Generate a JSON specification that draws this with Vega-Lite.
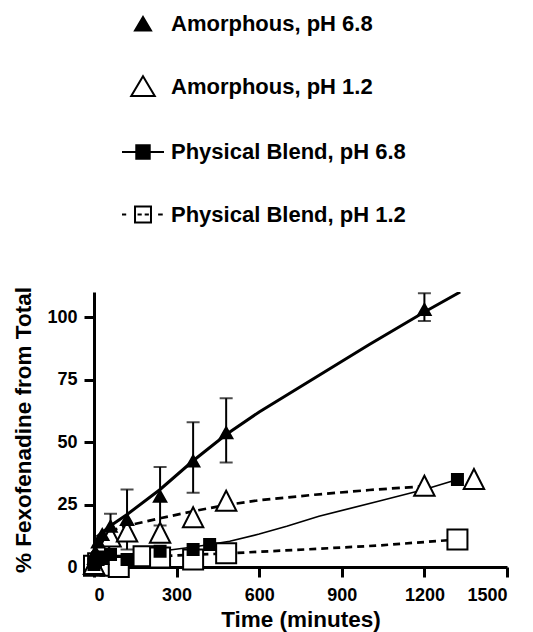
{
  "$schema": "https://vega.github.io/schema/vega-lite/v6.json",
  "width": 413,
  "height": 275,
  "autosize": {"type": "none"},
  "padding": {"left": 94, "top": 292, "right": 26, "bottom": 65},
  "background": "white",
  "config": {
    "view": {"stroke": null},
    "font": "Liberation Sans",
    "axis": {
      "grid": false,
      "domainColor": "black",
      "domainWidth": 3,
      "tickColor": "black",
      "tickWidth": 3,
      "tickSize": 10,
      "labelFont": "Liberation Sans",
      "labelFontSize": 18,
      "labelFontWeight": "bold",
      "labelColor": "black",
      "titleFont": "Liberation Sans",
      "titleFontSize": 22.5,
      "titleFontWeight": "bold",
      "titleColor": "black"
    }
  },
  "resolve": {"scale": {"shape": "independent", "fill": "independent", "stroke": "independent"}},
  "datasets": {
    "pts": [
      {"series": "Physical Blend, pH 1.2", "t": 0, "v": 0.5},
      {"series": "Physical Blend, pH 1.2", "t": 15, "v": 1.5},
      {"series": "Physical Blend, pH 1.2", "t": 30, "v": 2},
      {"series": "Physical Blend, pH 1.2", "t": 60, "v": 0.5},
      {"series": "Physical Blend, pH 1.2", "t": 90, "v": 0},
      {"series": "Physical Blend, pH 1.2", "t": 180, "v": 4.3},
      {"series": "Physical Blend, pH 1.2", "t": 240, "v": 3.8},
      {"series": "Physical Blend, pH 1.2", "t": 360, "v": 3},
      {"series": "Physical Blend, pH 1.2", "t": 480, "v": 5.5},
      {"series": "Physical Blend, pH 1.2", "t": 1320, "v": 11},
      {"series": "Amorphous, pH 1.2", "t": 0, "v": 1},
      {"series": "Amorphous, pH 1.2", "t": 15, "v": 5},
      {"series": "Amorphous, pH 1.2", "t": 30, "v": 9},
      {"series": "Amorphous, pH 1.2", "t": 60, "v": 12},
      {"series": "Amorphous, pH 1.2", "t": 120, "v": 14},
      {"series": "Amorphous, pH 1.2", "t": 240, "v": 13.5},
      {"series": "Amorphous, pH 1.2", "t": 360, "v": 19.7},
      {"series": "Amorphous, pH 1.2", "t": 480, "v": 26.3},
      {"series": "Amorphous, pH 1.2", "t": 1200, "v": 32.3},
      {"series": "Amorphous, pH 1.2", "t": 1380, "v": 35},
      {"series": "Physical Blend, pH 6.8", "t": 0, "v": 1},
      {"series": "Physical Blend, pH 6.8", "t": 5, "v": 2},
      {"series": "Physical Blend, pH 6.8", "t": 15, "v": 3},
      {"series": "Physical Blend, pH 6.8", "t": 30, "v": 4},
      {"series": "Physical Blend, pH 6.8", "t": 60, "v": 5},
      {"series": "Physical Blend, pH 6.8", "t": 120, "v": 3},
      {"series": "Physical Blend, pH 6.8", "t": 240, "v": 6.3},
      {"series": "Physical Blend, pH 6.8", "t": 360, "v": 7},
      {"series": "Physical Blend, pH 6.8", "t": 420, "v": 9},
      {"series": "Physical Blend, pH 6.8", "t": 1320, "v": 35},
      {"series": "Amorphous, pH 6.8", "t": 0, "v": 2},
      {"series": "Amorphous, pH 6.8", "t": 5, "v": 6},
      {"series": "Amorphous, pH 6.8", "t": 15, "v": 10},
      {"series": "Amorphous, pH 6.8", "t": 30, "v": 13},
      {"series": "Amorphous, pH 6.8", "t": 60, "v": 16.3},
      {"series": "Amorphous, pH 6.8", "t": 120, "v": 19},
      {"series": "Amorphous, pH 6.8", "t": 240, "v": 28.3},
      {"series": "Amorphous, pH 6.8", "t": 360, "v": 42.4},
      {"series": "Amorphous, pH 6.8", "t": 480, "v": 53.7},
      {"series": "Amorphous, pH 6.8", "t": 1200, "v": 103}
    ],
    "err": [
      {"t": 60, "lo": 11.3, "hi": 21.3},
      {"t": 120, "lo": 7, "hi": 31},
      {"t": 240, "lo": 16.6, "hi": 40},
      {"t": 360, "lo": 29.7, "hi": 57.9},
      {"t": 480, "lo": 41.8, "hi": 67.5},
      {"t": 1200, "lo": 98.4, "hi": 109.5}
    ],
    "fits": [
      {"series": "Amorphous, pH 6.8", "t": 10, "v": 12},
      {"series": "Amorphous, pH 6.8", "t": 60, "v": 16.5},
      {"series": "Amorphous, pH 6.8", "t": 120, "v": 21},
      {"series": "Amorphous, pH 6.8", "t": 240, "v": 31},
      {"series": "Amorphous, pH 6.8", "t": 360, "v": 42.5},
      {"series": "Amorphous, pH 6.8", "t": 480, "v": 53},
      {"series": "Amorphous, pH 6.8", "t": 600, "v": 62},
      {"series": "Amorphous, pH 6.8", "t": 800, "v": 75.5},
      {"series": "Amorphous, pH 6.8", "t": 1000, "v": 89},
      {"series": "Amorphous, pH 6.8", "t": 1200, "v": 102},
      {"series": "Amorphous, pH 6.8", "t": 1330, "v": 110},
      {"series": "Amorphous, pH 1.2", "t": 15, "v": 12},
      {"series": "Amorphous, pH 1.2", "t": 60, "v": 14.5},
      {"series": "Amorphous, pH 1.2", "t": 120, "v": 16.5},
      {"series": "Amorphous, pH 1.2", "t": 240, "v": 19.5},
      {"series": "Amorphous, pH 1.2", "t": 360, "v": 22.3},
      {"series": "Amorphous, pH 1.2", "t": 480, "v": 24.8},
      {"series": "Amorphous, pH 1.2", "t": 600, "v": 26.7},
      {"series": "Amorphous, pH 1.2", "t": 800, "v": 28.9},
      {"series": "Amorphous, pH 1.2", "t": 1000, "v": 30.8},
      {"series": "Amorphous, pH 1.2", "t": 1200, "v": 32.3},
      {"series": "Physical Blend, pH 6.8", "t": 0, "v": 2},
      {"series": "Physical Blend, pH 6.8", "t": 60, "v": 3.5},
      {"series": "Physical Blend, pH 6.8", "t": 120, "v": 4.5},
      {"series": "Physical Blend, pH 6.8", "t": 240, "v": 6.3},
      {"series": "Physical Blend, pH 6.8", "t": 360, "v": 8},
      {"series": "Physical Blend, pH 6.8", "t": 420, "v": 9},
      {"series": "Physical Blend, pH 6.8", "t": 493, "v": 10.3},
      {"series": "Physical Blend, pH 6.8", "t": 600, "v": 13.2},
      {"series": "Physical Blend, pH 6.8", "t": 700, "v": 16.3},
      {"series": "Physical Blend, pH 6.8", "t": 817, "v": 20.3},
      {"series": "Physical Blend, pH 6.8", "t": 1033, "v": 26.3},
      {"series": "Physical Blend, pH 6.8", "t": 1200, "v": 31},
      {"series": "Physical Blend, pH 6.8", "t": 1320, "v": 35},
      {"series": "Physical Blend, pH 1.2", "t": 0, "v": 1},
      {"series": "Physical Blend, pH 1.2", "t": 120, "v": 3.3},
      {"series": "Physical Blend, pH 1.2", "t": 240, "v": 4.3},
      {"series": "Physical Blend, pH 1.2", "t": 360, "v": 4.9},
      {"series": "Physical Blend, pH 1.2", "t": 480, "v": 5.4},
      {"series": "Physical Blend, pH 1.2", "t": 600, "v": 6.1},
      {"series": "Physical Blend, pH 1.2", "t": 817, "v": 7.3},
      {"series": "Physical Blend, pH 1.2", "t": 1033, "v": 8.6},
      {"series": "Physical Blend, pH 1.2", "t": 1320, "v": 11}
    ]
  },
  "encoding": {
    "x": {
      "field": "t", "type": "quantitative",
      "scale": {"domain": [0, 1500], "nice": false, "zero": false},
      "axis": {"values": [0, 300, 600, 900, 1200, 1500], "format": "d", "title": "Time (minutes)", "labelPadding": 9, "titlePadding": 4}
    },
    "y": {
      "field": "v", "type": "quantitative",
      "scale": {"domain": [0, 110], "nice": false},
      "axis": {"values": [0, 25, 50, 75, 100], "format": "d", "title": "% Fexofenadine from Total", "labelPadding": 7, "titlePadding": 11}
    }
  },
  "layer": [
    {
      "data": {"name": "err"},
      "mark": {"type": "errorbar", "color": "black", "ticks": {"size": 13, "thickness": 2, "color": "black"}, "rule": {"strokeWidth": 2, "color": "black"}},
      "encoding": {
        "x": {"field": "t", "type": "quantitative"},
        "y": {"field": "lo", "type": "quantitative"},
        "y2": {"field": "hi"}
      }
    },
    {
      "data": {"name": "fits"},
      "transform": [{"filter": "datum.series === 'Physical Blend, pH 1.2'"}],
      "mark": {"type": "line", "color": "black", "strokeWidth": 2.7, "strokeDash": [7, 5], "clip": true},
      "encoding": {}
    },
    {
      "data": {"name": "fits"},
      "transform": [{"filter": "datum.series === 'Physical Blend, pH 6.8'"}],
      "mark": {"type": "line", "color": "black", "strokeWidth": 1.7, "clip": true},
      "encoding": {}
    },
    {
      "data": {"name": "fits"},
      "transform": [{"filter": "datum.series === 'Amorphous, pH 1.2'"}],
      "mark": {"type": "line", "color": "black", "strokeWidth": 2.7, "strokeDash": [8, 5], "clip": true},
      "encoding": {}
    },
    {
      "data": {"name": "fits"},
      "transform": [{"filter": "datum.series === 'Amorphous, pH 6.8'"}],
      "mark": {"type": "line", "color": "black", "strokeWidth": 3, "clip": true},
      "encoding": {}
    },
    {
      "data": {"name": "pts"},
      "mark": {"type": "point", "stroke": "black", "strokeWidth": 2, "size": 400, "opacity": 1, "fillOpacity": 1, "strokeOpacity": 1},
      "encoding": {
        "shape": {
          "field": "series", "type": "nominal", "legend": null,
          "scale": {"domain": ["Amorphous, pH 6.8", "Amorphous, pH 1.2", "Physical Blend, pH 6.8", "Physical Blend, pH 1.2"], "range": ["M0,-0.55L0.62,0.55L-0.62,0.55Z", "M0,-1.05L1.02,0.95L-1.02,0.95Z", "M-0.55,-0.55H0.55V0.55H-0.55Z", "M-1,-1H1V1H-1Z"]}
        },
        "fill": {
          "field": "series", "type": "nominal", "legend": null,
          "scale": {"domain": ["Amorphous, pH 6.8", "Amorphous, pH 1.2", "Physical Blend, pH 6.8", "Physical Blend, pH 1.2"], "range": ["black", "white", "black", "white"]}
        }
      }
    },
    {
      "data": {"name": "pts"},
      "transform": [{"filter": "false"}],
      "mark": {"type": "point", "strokeWidth": 2, "opacity": 1},
      "encoding": {
        "shape": {
          "field": "series", "type": "nominal",
          "scale": {"domain": ["Amorphous, pH 6.8", "Amorphous, pH 1.2", "Physical Blend, pH 6.8", "Physical Blend, pH 1.2"], "range": ["M0,-0.33L0.38,0.31L-0.38,0.31Z", "M0,-0.49L0.56,0.45L-0.56,0.45Z", "M-1,0H-0.32M0.32,0H1M-0.32,-0.32H0.32V0.32H-0.32Z", "M-1,0H-0.8M-0.26,0H-0.06M0.08,0H0.28M0.72,0H0.94M-0.38,-0.38H0.38V0.38H-0.38Z"]},
          "legend": {
            "orient": "none", "legendX": 27, "legendY": -290, "direction": "vertical",
            "title": null, "padding": 0,
            "labelFont": "Liberation Sans", "labelFontSize": 22, "labelFontWeight": "bold", "labelColor": "black", "labelLimit": 400,
            "labelOffset": 6, "rowPadding": 29.5,
            "symbolSize": 1764, "symbolStrokeWidth": 2, "symbolStrokeColor": "black", "symbolOpacity": 1
          }
        },
        "fill": {
          "field": "series", "type": "nominal",
          "scale": {"domain": ["Amorphous, pH 6.8", "Amorphous, pH 1.2", "Physical Blend, pH 6.8", "Physical Blend, pH 1.2"], "range": ["black", "white", "black", "white"]},
          "legend": {
            "orient": "none", "legendX": 27, "legendY": -290, "direction": "vertical",
            "title": null, "padding": 0,
            "labelFont": "Liberation Sans", "labelFontSize": 22, "labelFontWeight": "bold", "labelColor": "black", "labelLimit": 400,
            "labelOffset": 6, "rowPadding": 29.5,
            "symbolSize": 1764, "symbolStrokeWidth": 2, "symbolStrokeColor": "black", "symbolOpacity": 1
          }
        },
        "stroke": {
          "field": "series", "type": "nominal",
          "scale": {"domain": ["Amorphous, pH 6.8", "Amorphous, pH 1.2", "Physical Blend, pH 6.8", "Physical Blend, pH 1.2"], "range": ["black", "black", "black", "black"]},
          "legend": {
            "orient": "none", "legendX": 27, "legendY": -290, "direction": "vertical",
            "title": null, "padding": 0,
            "labelFont": "Liberation Sans", "labelFontSize": 22, "labelFontWeight": "bold", "labelColor": "black", "labelLimit": 400,
            "labelOffset": 6, "rowPadding": 29.5,
            "symbolSize": 1764, "symbolStrokeWidth": 2, "symbolStrokeColor": "black", "symbolOpacity": 1
          }
        }
      }
    }
  ]
}
